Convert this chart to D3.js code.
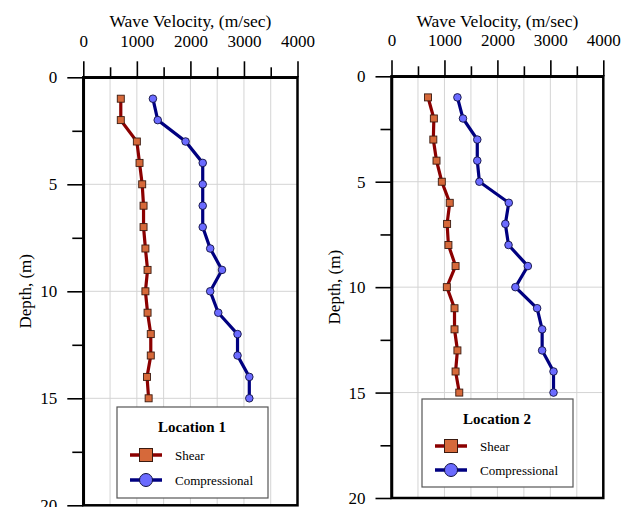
<!DOCTYPE html>
<html>
<head>
<meta charset="utf-8">
<script src="https://cdn.jsdelivr.net/npm/d3@7"></script>
<style>
  body { margin: 0; background: #fff; }
  svg { display: block; }
  svg text { font-family: "Liberation Serif", "Times New Roman", serif; }
</style>
</head>
<body>
<svg id="chart" width="630" height="507"></svg>
<script>
// depth of each measurement (m)
var depths = [1, 2, 3, 4, 5, 6, 7, 8, 9, 10, 11, 12, 13, 14, 15];

// location 1 velocities (m/sec)
var shear1 = [700, 700, 1000, 1050, 1100, 1125, 1125, 1160, 1200, 1160, 1200, 1260, 1260, 1190, 1220];
var comp1 = [1300, 1390, 1910, 2230, 2230, 2230, 2230, 2370, 2590, 2370, 2520, 2880, 2880, 3100, 3100];

// location 2 velocities (m/sec)
var shear2 = [690, 800, 790, 850, 950, 1100, 1050, 1075, 1210, 1045, 1190, 1190, 1245, 1210, 1280];
var comp2 = [1245, 1350, 1620, 1620, 1660, 2215, 2150, 2210, 2575, 2340, 2750, 2845, 2845, 3060, 3060];

var velMajorTicks = [0, 1000, 2000, 3000, 4000];
var velMinorTicks = [500, 1500, 2500, 3500];
var depthMajorTicks = [0, 5, 10, 15, 20];
var depthMinorTicks = [2.5, 7.5, 12.5, 17.5];
var seriesNames = ["Shear", "Compressional"];

var shearLine = "#8b0000", shearFill = "#d6693a";
var compLine = "#000080", compFill = "#6b6bff";

var svg = d3.select("#chart");

function drawPanel(p) {
    var x = d3.scaleLinear().domain([0, 4000]).range([p.left, p.right]);
    var y = d3.scaleLinear().domain([0, 20]).range([p.top, p.bottom]);
    var g = svg.append("g");

    // gridlines
    g.selectAll("line.vgrid")
        .data(velMajorTicks.concat(velMinorTicks).filter(function(d) { return d > 0 && d < 4000; }))
        .enter().append("line")
        .attr("x1", function(d) { return x(d); })
        .attr("x2", function(d) { return x(d); })
        .attr("y1", p.top).attr("y2", p.bottom)
        .attr("stroke", "#d4d4d4").attr("stroke-width", 1);

    g.selectAll("line.hgrid")
        .data([5, 10, 15])
        .enter().append("line")
        .attr("x1", p.left).attr("x2", p.right)
        .attr("y1", function(d) { return y(d); })
        .attr("y2", function(d) { return y(d); })
        .attr("stroke", "#d4d4d4").attr("stroke-width", 1);

    // legend box sits behind the data
    var lg = g.append("g");
    lg.append("rect")
        .attr("x", p.lx).attr("y", p.ly)
        .attr("width", 151).attr("height", p.lh)
        .attr("fill", "#fff").attr("stroke", "#555").attr("stroke-width", 1.2);

    // frame
    g.append("rect")
        .attr("x", p.left).attr("y", p.top)
        .attr("width", p.right - p.left).attr("height", p.bottom - p.top)
        .attr("fill", "none").attr("stroke", "#000").attr("stroke-width", 2.5);

    function styleAxis(a) {
        a.attr("font-family", null).attr("font-size", null);
        a.select(".domain").attr("stroke-width", 2.5);
        a.selectAll("line").attr("stroke-width", 1.6);
        a.selectAll("text")
            .style("font-family", '"Liberation Serif", "Times New Roman", serif')
            .style("font-size", "17px")
            .attr("fill", "#000");
    }

    // top axis
    g.append("g")
        .attr("transform", "translate(0," + p.top + ")")
        .call(d3.axisTop(x).tickValues(velMinorTicks).tickSize(10).tickSizeOuter(0).tickFormat(""))
        .call(function(a) { a.select(".domain").remove(); a.selectAll("line").attr("stroke-width", 1.6); });
    g.append("g")
        .attr("transform", "translate(0," + p.top + ")")
        .call(d3.axisTop(x).tickValues(velMajorTicks).tickSize(16).tickSizeOuter(0).tickPadding(14).tickFormat(d3.format("d")))
        .call(styleAxis);

    // left axis
    g.append("g")
        .attr("transform", "translate(" + p.left + ",0)")
        .call(d3.axisLeft(y).tickValues(depthMinorTicks).tickSize(11).tickSizeOuter(0).tickFormat(""))
        .call(function(a) { a.select(".domain").remove(); a.selectAll("line").attr("stroke-width", 1.6); });
    g.append("g")
        .attr("transform", "translate(" + p.left + ",0)")
        .call(d3.axisLeft(y).tickValues(depthMajorTicks).tickSize(16).tickSizeOuter(0).tickPadding(10))
        .call(styleAxis);

    // axis titles
    g.append("text")
        .attr("x", (p.left + p.right) / 2).attr("y", 27)
        .attr("text-anchor", "middle").attr("font-size", 17.5)
        .text("Wave Velocity, (m/sec)");
    g.append("text")
        .attr("transform", "translate(" + (p.left - 52) + "," + ((p.top + p.bottom) / 2) + ") rotate(-90)")
        .attr("text-anchor", "middle").attr("font-size", 17)
        .text("Depth, (m)");

    // series
    var line = d3.line()
        .x(function(d) { return x(d[0]); })
        .y(function(d) { return y(d[1]); });
    var shearPts = d3.zip(p.shear, depths);
    var compPts = d3.zip(p.comp, depths);

    g.append("path").datum(shearPts).attr("d", line)
        .attr("fill", "none").attr("stroke", shearLine).attr("stroke-width", 3.2);
    g.append("path").datum(compPts).attr("d", line)
        .attr("fill", "none").attr("stroke", compLine).attr("stroke-width", 3.2);

    g.selectAll("rect.sq").data(shearPts).enter().append("rect")
        .attr("x", function(d) { return x(d[0]) - 3.5; })
        .attr("y", function(d) { return y(d[1]) - 3.5; })
        .attr("width", 7).attr("height", 7)
        .attr("fill", shearFill).attr("stroke", "#3a1a10").attr("stroke-width", 0.9);
    g.selectAll("circle.pt").data(compPts).enter().append("circle")
        .attr("cx", function(d) { return x(d[0]); })
        .attr("cy", function(d) { return y(d[1]); })
        .attr("r", 3.8)
        .attr("fill", compFill).attr("stroke", "#101040").attr("stroke-width", 0.9);

    // legend contents
    var cx = p.lx + 29;
    lg.append("text")
        .attr("x", p.lx + 75).attr("y", p.ly + 25)
        .attr("text-anchor", "middle").attr("font-size", 15).attr("font-weight", "bold")
        .text(p.title);

    var r1 = p.ly + p.lr1, r2 = p.ly + p.lr2;
    lg.append("line").attr("x1", cx - 16).attr("x2", cx + 16).attr("y1", r1).attr("y2", r1)
        .attr("stroke", shearLine).attr("stroke-width", 3.5);
    lg.append("rect").attr("x", cx - 6.5).attr("y", r1 - 6.5).attr("width", 13).attr("height", 13)
        .attr("fill", shearFill).attr("stroke", "#3a1a10").attr("stroke-width", 1);
    lg.append("line").attr("x1", cx - 16).attr("x2", cx + 16).attr("y1", r2).attr("y2", r2)
        .attr("stroke", compLine).attr("stroke-width", 3.5);
    lg.append("circle").attr("cx", cx).attr("cy", r2).attr("r", 6.5)
        .attr("fill", compFill).attr("stroke", "#101040").attr("stroke-width", 1);

    lg.selectAll("text.item").data(seriesNames).enter().append("text")
        .attr("x", p.lx + 58)
        .attr("y", function(d, i) { return (i == 0 ? r1 : r2) + 4.5; })
        .attr("font-size", 13)
        .text(function(d) { return d; });
}

drawPanel({
    left: 83.3, right: 297.5, top: 77.3, bottom: 505.3,
    shear: shear1, comp: comp1, title: "Location 1",
    lx: 117, ly: 407, lh: 91, lr1: 48, lr2: 73
});

drawPanel({
    left: 391.5, right: 603.3, top: 76.3, bottom: 498,
    shear: shear2, comp: comp2, title: "Location 2",
    lx: 422, ly: 399, lh: 88, lr1: 47, lr2: 71
});
</script>
</body>
</html>
